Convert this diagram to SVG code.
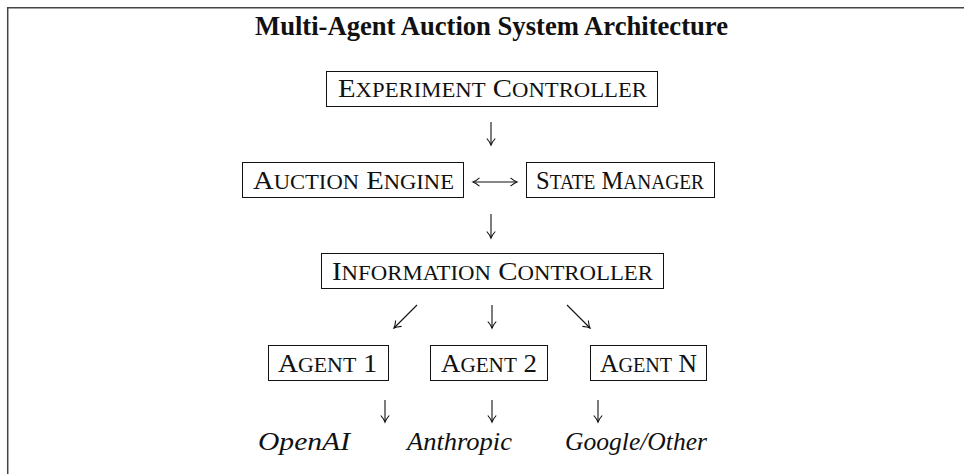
<svg xmlns="http://www.w3.org/2000/svg" width="964" height="474" viewBox="0 0 964 474">
  <style>
    .frame { fill: none; stroke: #444; stroke-width: 1.5; }
    .box { fill: #fff; stroke: #111; stroke-width: 1; }
    .lbl { font-family: "Liberation Serif", "Times New Roman", serif; fill: #111; font-size: 26px; }
    .sc { font-size: 20.5px; }
    .title { font-family: "Liberation Serif", "Times New Roman", serif; font-weight: bold; font-size: 26.5px; fill: #111; }
    .prov { font-family: "Liberation Serif", "Times New Roman", serif; font-style: italic; font-size: 26px; fill: #111; }
    .conn { fill: none; stroke: #111; stroke-width: 1.1; marker-end: url(#head); }
  </style>
  <defs>
    <marker id="head" viewBox="-8 -5 10 10" refX="0" refY="0" markerWidth="10" markerHeight="10" markerUnits="userSpaceOnUse" orient="auto-start-reverse">
      <path d="M -6.5 -4.2 Q -2.5 -0.8 0 0 Q -2.5 0.8 -6.5 4.2" fill="none" stroke="#111" stroke-width="1.1"/>
    </marker>
  </defs>

  <rect width="964" height="474" fill="#fff"/>
  <!-- outer frame: top and left edges -->
  <path class="frame" d="M 7.7 474 V 7.7 H 964"/>

  <text class="title" x="255" y="35" textLength="473" lengthAdjust="spacingAndGlyphs">Multi-Agent Auction System Architecture</text>

  <g id="experiment-controller">
    <rect class="box" x="326.5" y="71.5" width="331" height="35"/>
    <text class="lbl" x="338" y="97" textLength="309" lengthAdjust="spacingAndGlyphs">E<tspan class="sc">XPERIMENT</tspan> C<tspan class="sc">ONTROLLER</tspan></text>
  </g>

  <g id="auction-engine">
    <rect class="box" x="242.5" y="162.5" width="221" height="35"/>
    <text class="lbl" x="253" y="189" textLength="201" lengthAdjust="spacingAndGlyphs">A<tspan class="sc">UCTION</tspan> E<tspan class="sc">NGINE</tspan></text>
  </g>

  <g id="state-manager">
    <rect class="box" x="526.5" y="162.5" width="188" height="35"/>
    <text class="lbl" x="536" y="189" textLength="168" lengthAdjust="spacingAndGlyphs">S<tspan class="sc">TATE</tspan> M<tspan class="sc">ANAGER</tspan></text>
  </g>

  <g id="information-controller">
    <rect class="box" x="321.5" y="253.5" width="342" height="35"/>
    <text class="lbl" x="332" y="280" textLength="321" lengthAdjust="spacingAndGlyphs">I<tspan class="sc">NFORMATION</tspan> C<tspan class="sc">ONTROLLER</tspan></text>
  </g>

  <g id="agent-1">
    <rect class="box" x="268.5" y="345.5" width="120" height="35"/>
    <text class="lbl" x="278" y="372" textLength="99" lengthAdjust="spacingAndGlyphs">A<tspan class="sc">GENT</tspan> 1</text>
  </g>

  <g id="agent-2">
    <rect class="box" x="430.5" y="345.5" width="117" height="35"/>
    <text class="lbl" x="441" y="372" textLength="96" lengthAdjust="spacingAndGlyphs">A<tspan class="sc">GENT</tspan> 2</text>
  </g>

  <g id="agent-n">
    <rect class="box" x="590.5" y="345.5" width="116" height="35"/>
    <text class="lbl" x="600" y="372" textLength="97" lengthAdjust="spacingAndGlyphs">A<tspan class="sc">GENT</tspan> N</text>
  </g>

  <g id="provider-openai"><text class="prov" x="258" y="450" textLength="92" lengthAdjust="spacingAndGlyphs">OpenAI</text></g>
  <g id="provider-anthropic"><text class="prov" x="407" y="450" textLength="105" lengthAdjust="spacingAndGlyphs">Anthropic</text></g>
  <g id="provider-google-other"><text class="prov" x="565" y="450" textLength="142" lengthAdjust="spacingAndGlyphs">Google/Other</text></g>

  <g id="connectors">
    <path class="conn" d="M 491 122 V 145"/>
    <path class="conn" d="M 473 182 H 517" marker-start="url(#head)"/>
    <path class="conn" d="M 491 214 V 238"/>
    <path class="conn" d="M 417 305 L 394 328"/>
    <path class="conn" d="M 492 305 V 328"/>
    <path class="conn" d="M 567 305 L 590 328"/>
    <path class="conn" d="M 385 400 V 422"/>
    <path class="conn" d="M 492 400 V 422"/>
    <path class="conn" d="M 598 400 V 422"/>
  </g>
</svg>
